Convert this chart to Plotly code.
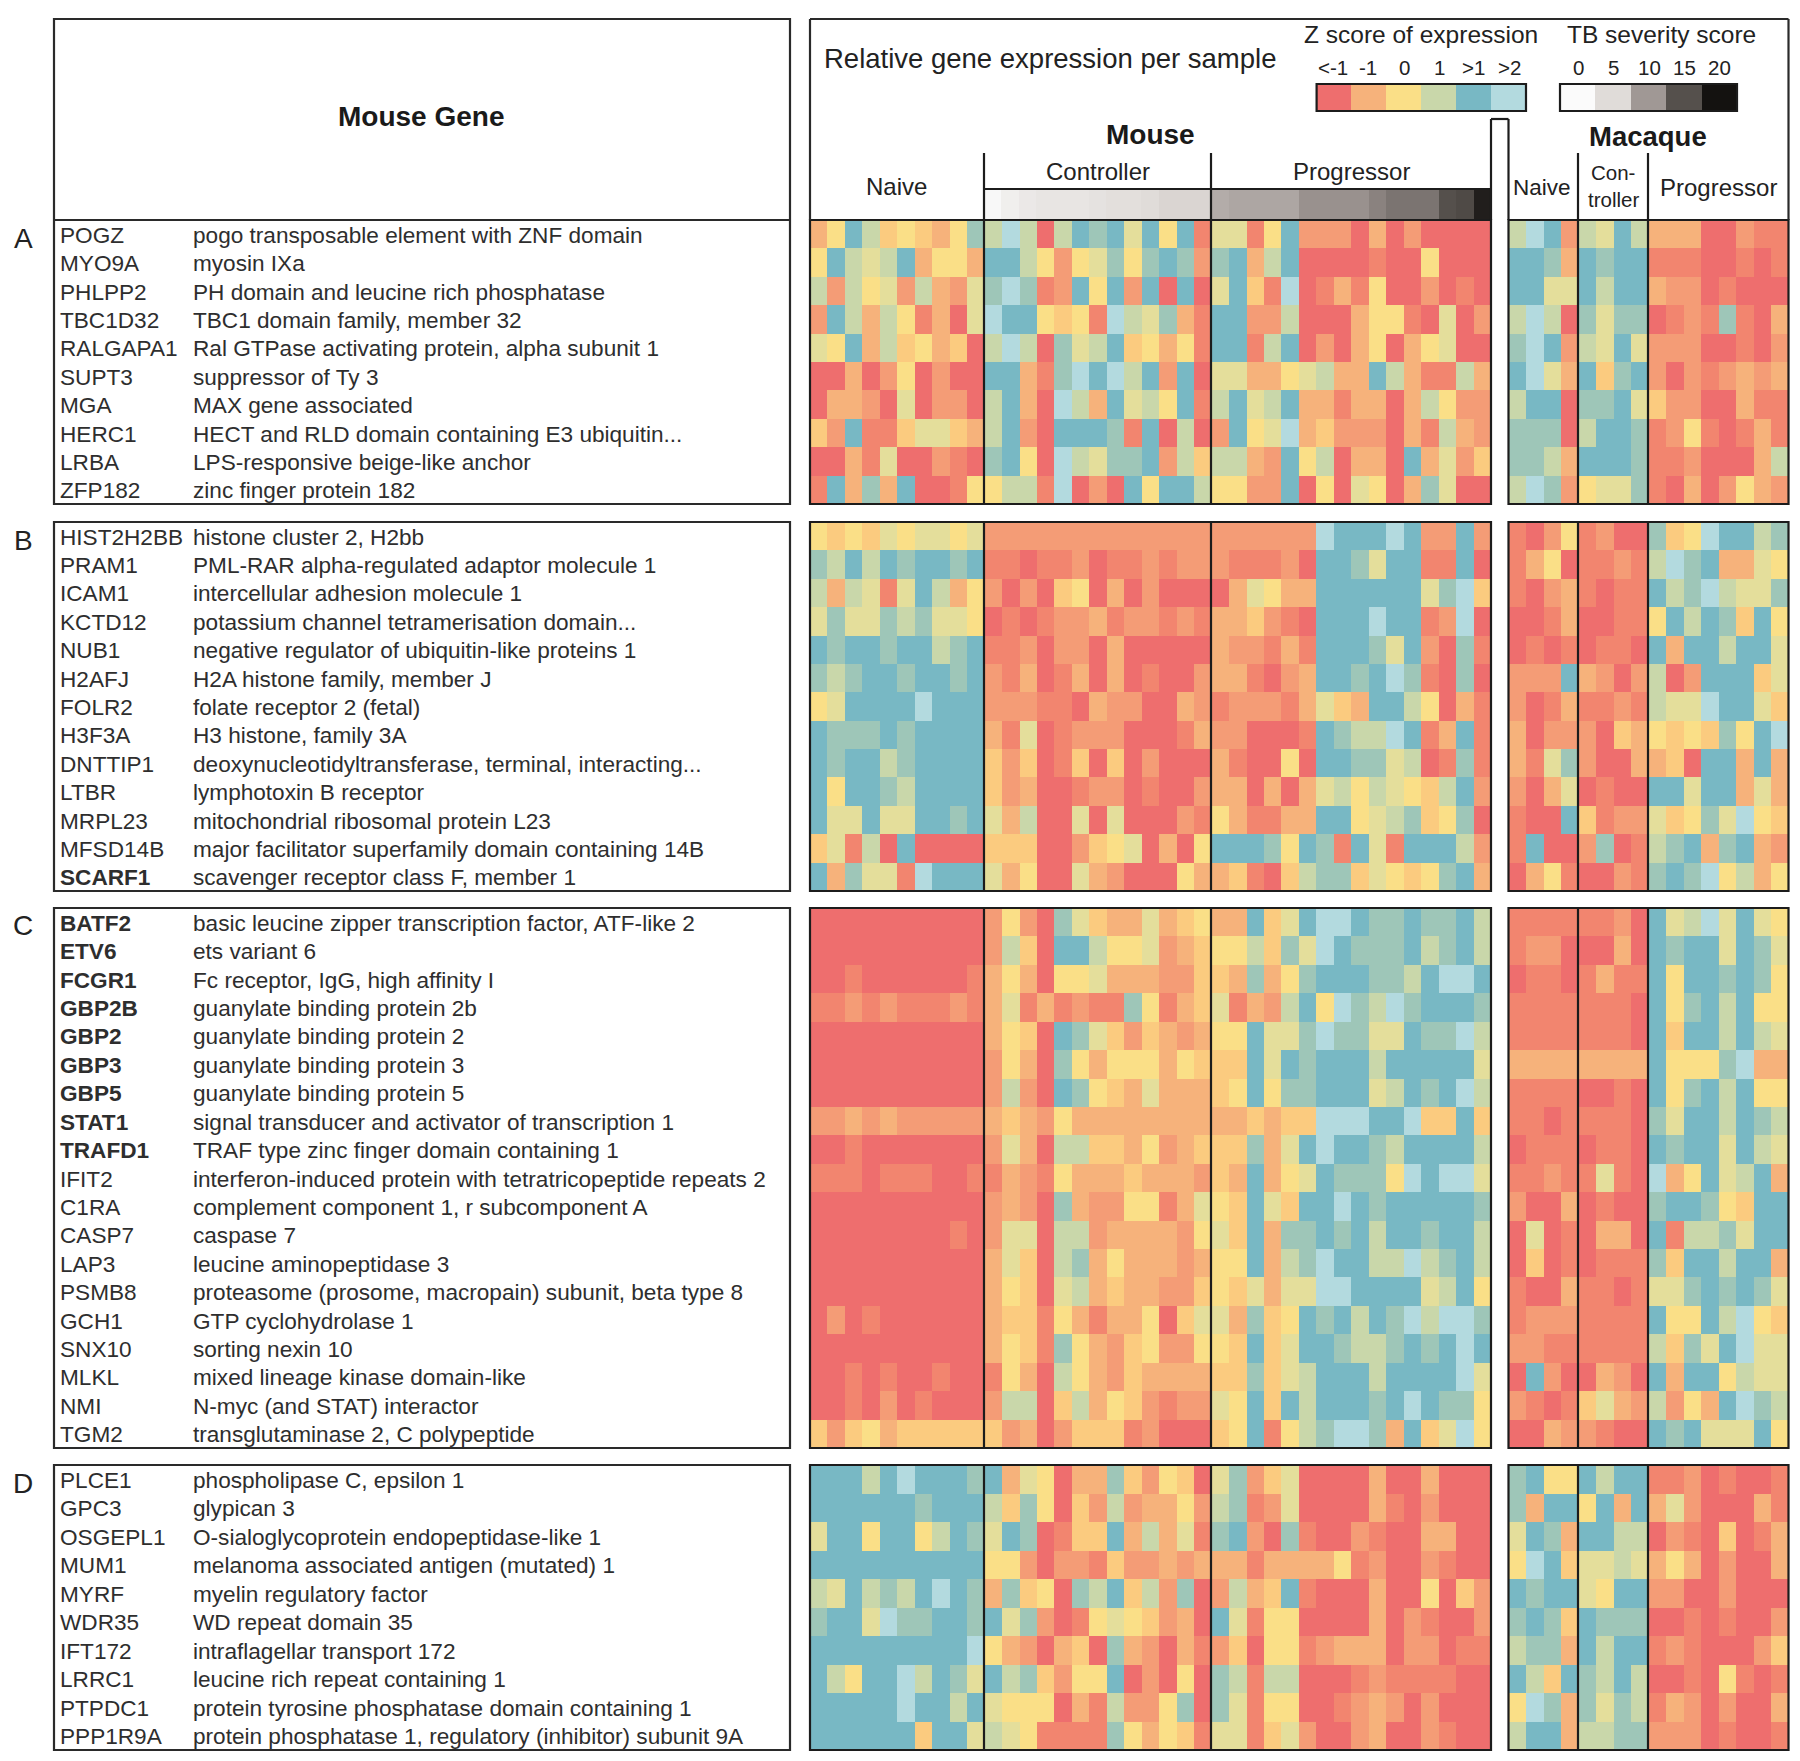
import plotly.graph_objects as go

W, H = 1800, 1761

# expression level codes: 0 (deep red, below -1) ... a=10 (pale blue, above 2); read per cell
LEVEL_COLOURS = ["#EE6E6E", "#F2856F", "#F49C76", "#F6B27B", "#FBCB7F", "#FADF87",
                 "#E4DE9B", "#C9D7AA", "#9EC6B8", "#78B8C4", "#B3DADF"]
GREYS = [[0, "#FBFBFB"], [0.25, "#E0DCD9"], [0.5, "#A09895"], [0.75, "#55504C"], [1, "#141210"]]

GENES_A = ["POGZ", "MYO9A", "PHLPP2", "TBC1D32", "RALGAPA1", "SUPT3", "MGA", "HERC1", "LRBA", "ZFP182"]
DESC_A = ["pogo transposable element with ZNF domain", "myosin IXa", "PH domain and leucine rich phosphatase",
          "TBC1 domain family, member 32", "Ral GTPase activating protein, alpha subunit 1", "suppressor of Ty 3",
          "MAX gene associated", "HECT and RLD domain containing E3 ubiquitin...", "LPS-responsive beige-like anchor",
          "zinc finger protein 182"]
GENES_B = ["HIST2H2BB", "PRAM1", "ICAM1", "KCTD12", "NUB1", "H2AFJ", "FOLR2", "H3F3A", "DNTTIP1", "LTBR", "MRPL23",
           "MFSD14B", "SCARF1"]
DESC_B = ["histone cluster 2, H2bb", "PML-RAR alpha-regulated adaptor molecule 1", "intercellular adhesion molecule 1",
          "potassium channel tetramerisation domain...", "negative regulator of ubiquitin-like proteins 1",
          "H2A histone family, member J", "folate receptor 2 (fetal)", "H3 histone, family 3A",
          "deoxynucleotidyltransferase, terminal, interacting...", "lymphotoxin B receptor",
          "mitochondrial ribosomal protein L23", "major facilitator superfamily domain containing 14B",
          "scavenger receptor class F, member 1"]
GENES_C = ["BATF2", "ETV6", "FCGR1", "GBP2B", "GBP2", "GBP3", "GBP5", "STAT1", "TRAFD1", "IFIT2", "C1RA", "CASP7",
           "LAP3", "PSMB8", "GCH1", "SNX10", "MLKL", "NMI", "TGM2"]
DESC_C = ["basic leucine zipper transcription factor, ATF-like 2", "ets variant 6", "Fc receptor, IgG, high affinity I",
          "guanylate binding protein 2b", "guanylate binding protein 2", "guanylate binding protein 3",
          "guanylate binding protein 5", "signal transducer and activator of transcription 1",
          "TRAF type zinc finger domain containing 1", "interferon-induced protein with tetratricopeptide repeats 2",
          "complement component 1, r subcomponent A", "caspase 7", "leucine aminopeptidase 3",
          "proteasome (prosome, macropain) subunit, beta type 8", "GTP cyclohydrolase 1", "sorting nexin 10",
          "mixed lineage kinase domain-like", "N-myc (and STAT) interactor", "transglutaminase 2, C polypeptide"]
GENES_D = ["PLCE1", "GPC3", "OSGEPL1", "MUM1", "MYRF", "WDR35", "IFT172", "LRRC1", "PTPDC1", "PPP1R9A"]
DESC_D = ["phospholipase C, epsilon 1", "glypican 3", "O-sialoglycoprotein endopeptidase-like 1",
          "melanoma associated antigen (mutated) 1", "myelin regulatory factor", "WD repeat domain 35",
          "intraflagellar transport 172", "leucine rich repeat containing 1",
          "protein tyrosine phosphatase domain containing 1", "protein phosphatase 1, regulatory (inhibitor) subunit 9A"]
BOLD_GENES = ["SCARF1", "BATF2", "ETV6", "FCGR1", "GBP2B", "GBP2", "GBP3", "GBP5", "STAT1", "TRAFD1"]

# each row: naive controller progressor
MOUSE_A = [
    "3597454358 7a70798969591 6615922203020000",
    "5976793553 9975256858982 8937900001005000",
    "7275627326 8a81295929090 6941a01315002010",
    "2973751306 a995451a76831 9922700035510602",
    "6593745340 7a70867945351 9917902035035600",
    "0030250200 99318a9a79290 6633567339731173",
    "0332060220 7930a73967591 7967933133037522",
    "4291146643 7920999819070 2956a34222031732",
    "0031600210 8950a76889274 7732957033093624",
    "1938390015 5771a02095997 5522905065038600",
]
# each row: naive controller progressor
MACAQUE_A = [
    "7a92 7697 33300211", "9983 9899 11100101", "9966 9799 32201000", "7a70 8688 01218103", "8a92 7696 22200102",
    "9a63 9489 20212323", "7990 8896 42200311", "8880 7998 12510131", "8873 9998 11200037", "7a82 5668 10302532",
]
MOUSE_B = [
    "5454656656 2222222222222 222222a999a92292",
    "8797989989 1101120112122 2111209986991190",
    "7376169735 2020450302000 03653399999968a4",
    "6866878665 0101223122121 334210999a9912a0",
    "9899899789 1120220300000 3221319998692081",
    "8789989989 2130130301002 3310239989a81080",
    "569999a999 2221103220032 1222136439975031",
    "9888989999 3160122200013 2200019877a91391",
    "9899789999 4240140402000 3100509988670181",
    "9599879999 4230012201002 3303036757654792",
    "9669669989 6370060600021 5311339956784580",
    "4617090000 4440024560305 9998598196199972",
    "938661a999 6350063200053 3410478846545893",
]
MACAQUE_B = [
    "1025 1200 845a9978", "1350 1121 7a893365", "1023 1011 978a7668", "0013 0011 59798495", "0101 0110 93997996",
    "2229 3202 70299946", "2013 1121 766a9964", "3022 2043 5454859a", "3168 2003 34099393", "2036 0100 99699363",
    "1009 4122 64586a54", "1900 2801 78938932", "0351 0021 898a5735",
]
MOUSE_C = [
    "0000000000 2520864336345 339469aa98898897",
    "0000000000 2740997556234 557486a988897897",
    "0010000001 3530556333224 4383589998879aa9",
    "1121211121 3613121185134 6132795a87a89998",
    "0000000000 3540986424323 559668a8866988a7",
    "0000000000 2530853555354 4496989997999996",
    "0000000000 2720985436333 45958899967989a7",
    "2232322222 3432533333333 334344aaa99a4494",
    "0010000000 2630774435234 448369a998799997",
    "1110111001 1321533343332 43935698885a9aa6",
    "0000000000 2320832255136 5496499a98999998",
    "0000000010 2660772333325 6493889897998997",
    "0000000000 3640783533323 559378a9977a7897",
    "0000000000 3540673433224 546366aa99996795",
    "0201000000 3441531335046 63845989798a7aa8",
    "0000000000 3541853245225 54946998778989a9",
    "0010100100 1530753243333 44846799979999a6",
    "0010201000 2770473542122 65949799989a9885",
    "4245344444 4230244412000 4591578aa83946a5",
]
MACAQUE_C = [
    "1111 1120 967a6965", "1220 0030 98996986", "0110 1311 95998985", "1111 1110 95897955", "1111 1110 94997976",
    "3333 3333 95558a33", "1111 0010 95897955", "1101 1110 86997987", "0111 0110 98996976", "1121 1610 a3596793",
    "2003 0100 89985499", "0601 0330 91778699", "0401 0111 84997993", "1003 1101 66898986", "1222 1111 95597a54",
    "2211 1111 74869a66", "0920 0320 93995766", "2101 4632 72539a87", "0032 2100 98966695",
]
MOUSE_D = [
    "99979a9998 9365033842540 6824600003003000",
    "9999998999 7485042723352 7812600003102000",
    "6995995798 6980144937361 8920810021003300",
    "9999999999 5520221422323 3313333512002100",
    "7697879a98 3845087947280 2734910003005042",
    "8996a88998 9682015654230 9615500003021002",
    "999999999a 5320340832031 2405512333022011",
    "97599a7986 9784255902050 8717700012111100",
    "99999a9979 6555031722580 8615500123202000",
    "9999994996 7651111853541 6614620023002100",
]
MACAQUE_D = [
    "8955 9799 11201001", "8399 5939 36200031", "6983 9977 02104013", "5a94 6676 35302003", "9899 6599 22002000",
    "8984 9888 00101002", "7883 9799 12100024", "9749 8797 00105101", "5a83 8687 13202003", "7993 7788 22201001",
]

SEVERITY_CONTROLLER = [0.5, 2, 3, 3.5, 3.5, 3.5, 4, 4.5, 4.5, 5, 5.5, 5.5, 5.5]
SEVERITY_PROGRESSOR = [8.5, 9, 9, 9, 9, 10.5, 10.5, 10.5, 10.5, 11.5, 12.5, 12.5, 12.5, 15, 15.5, 19]
Z_LEGEND_CODES = [0, 3, 5, 7, 9, 10]
Z_LEGEND_LABELS = ["<-1", "-1", "0", "1", ">1", ">2"]
TB_LEGEND_VALUES = [0, 5, 10, 15, 20]
N_MOUSE, N_MACAQUE = 39, 16


def parse(rows, n):
    out = []
    for r in rows:
        v = [int(c, 11) for c in r.replace(" ", "")]
        if len(v) != n:
            raise ValueError(f"row length {len(v)} != {n}: {r}")
        out.append(v)
    return out


def px(x):
    return x / W


def py(y):
    return 1 - y / H


# layout in pixels of the photographed page
MX0, MX1, QX0, QX1 = 810, 1491, 1508.5, 1788.5
NAIVE_END, CTRL_END, Q_NAIVE_END, Q_CTRL_END = 984, 1211, 1578, 1648
LX0, LX1 = 54, 790
PANELS = [("A", GENES_A, DESC_A, MOUSE_A, MACAQUE_A, 220, 504),
          ("B", GENES_B, DESC_B, MOUSE_B, MACAQUE_B, 522, 891),
          ("C", GENES_C, DESC_C, MOUSE_C, MACAQUE_C, 908, 1448),
          ("D", GENES_D, DESC_D, MOUSE_D, MACAQUE_D, 1465, 1750)]

fig = go.Figure()
layout = dict(
    width=W, height=H, margin=dict(l=0, r=0, t=0, b=0), paper_bgcolor="white", plot_bgcolor="white",
    showlegend=False, font=dict(family="Liberation Sans, Arial, sans-serif", color="#222222"),
    coloraxis=dict(colorscale=[[i / 10, c] for i, c in enumerate(LEVEL_COLOURS)], cmin=0, cmax=10, showscale=False),
    coloraxis2=dict(colorscale=GREYS, cmin=0, cmax=20, showscale=False),
)
hidden = dict(visible=False, fixedrange=True)
layout["xaxis"] = dict(hidden, domain=[px(MX0), px(MX1)], range=[-0.5, N_MOUSE - 0.5])
layout["xaxis2"] = dict(hidden, domain=[px(QX0), px(QX1)], range=[-0.5, N_MACAQUE - 0.5], anchor="y")

shapes, notes = [], []


def line(x0, y0, x1, y1, w=2.2, c="#1c1c1c"):
    shapes.append(dict(type="line", xref="paper", yref="paper", x0=px(x0), y0=py(y0), x1=px(x1), y1=py(y1),
                       line=dict(color=c, width=w)))


def box(x0, y0, x1, y1, w=2.2, c="#2a2a2a"):
    shapes.append(dict(type="rect", xref="paper", yref="paper", x0=px(x0), y0=py(y0), x1=px(x1), y1=py(y1),
                       line=dict(color=c, width=w), fillcolor="rgba(0,0,0,0)"))


def text(x, y, s, size, anchor="center", color="#222222"):
    notes.append(dict(xref="paper", yref="paper", x=px(x), y=py(y), text=s, showarrow=False, xanchor=anchor,
                      yanchor="middle", font=dict(size=size, color=color), borderpad=0, borderwidth=0))


for i, (letter, genes, descs, mouse, macaque, y0, y1) in enumerate(PANELS):
    name = "yaxis" if i == 0 else f"yaxis{i + 1}"
    ref = "y" if i == 0 else f"y{i + 1}"
    layout[name] = dict(hidden, domain=[py(y1), py(y0)], type="category", categoryorder="array",
                        categoryarray=genes, range=[len(genes) - 0.5, -0.5], anchor="x")
    fig.add_trace(go.Heatmap(z=parse(mouse, N_MOUSE), y=genes, xaxis="x", yaxis=ref, coloraxis="coloraxis",
                             name="Mouse"))
    fig.add_trace(go.Heatmap(z=parse(macaque, N_MACAQUE), y=genes, xaxis="x2", yaxis=ref, coloraxis="coloraxis",
                             name="Macaque"))
    top = 19 if letter == "A" else y0
    box(LX0, top, LX1, y1)
    box(MX0, y0, MX1, y1, c="#1c1c1c")
    box(QX0, y0, QX1, y1, c="#1c1c1c")
    for sep in (NAIVE_END, CTRL_END, Q_NAIVE_END, Q_CTRL_END):
        line(sep, y0, sep, y1)
    text(23, y0 + 18, letter, 28)
    for gene, desc in zip(genes, descs):
        label = f"<b>{gene}</b>" if gene in BOLD_GENES else gene
        for x, s in ((58, label), (191, desc)):
            notes.append(dict(xref="paper", yref=ref, x=px(x), y=gene, text=s, showarrow=False, xanchor="left",
                              yanchor="middle", yshift=-1, font=dict(size=22.6, color="#2e2e2e")))

# severity strip under the mouse groups
layout["xaxis3"] = dict(hidden, domain=[px(NAIVE_END), px(MX1)], range=[-0.5, 28.5], anchor="y5")
layout["yaxis5"] = dict(hidden, domain=[py(219), py(189)], anchor="x3")
fig.add_trace(go.Heatmap(z=[SEVERITY_CONTROLLER + SEVERITY_PROGRESSOR], xaxis="x3", yaxis="y5", coloraxis="coloraxis2",
                         name="TB severity"))
# colour legends
layout["xaxis4"] = dict(hidden, domain=[px(1316.6), px(1526)], range=[-0.5, 5.5], anchor="y6")
layout["yaxis6"] = dict(hidden, domain=[py(111), py(84)], anchor="x4")
fig.add_trace(go.Heatmap(z=[Z_LEGEND_CODES], xaxis="x4", yaxis="y6", coloraxis="coloraxis", name="Z score"))
layout["xaxis5"] = dict(hidden, domain=[px(1560), px(1737)], range=[-0.5, 4.5], anchor="y7")
layout["yaxis7"] = dict(hidden, domain=[py(111), py(84)], anchor="x5")
fig.add_trace(go.Heatmap(z=[TB_LEGEND_VALUES], xaxis="x5", yaxis="y7", coloraxis="coloraxis2", name="TB legend"))
box(1316.6, 84, 1526, 111, c="#1c1c1c")
box(1560, 84, 1737, 111, c="#1c1c1c")

# header frames
line(LX0, 220, LX1, 220, c="#2a2a2a")
line(MX0, 19, QX1, 19, c="#2a2a2a")
line(MX0, 19, MX0, 220, c="#2a2a2a")
line(QX1, 19, QX1, 220, c="#2a2a2a")
line(MX1, 119, MX1, 220)
line(QX0, 119, QX0, 220)
line(MX1, 119, QX0, 119)
line(NAIVE_END, 153, NAIVE_END, 220)
line(CTRL_END, 153, CTRL_END, 220)
line(Q_NAIVE_END, 153, Q_NAIVE_END, 220)
line(Q_CTRL_END, 153, Q_CTRL_END, 220)
line(NAIVE_END, 189, MX1, 189)

# header text
text(420.5, 117, "<b>Mouse Gene</b>", 28, color="#1a1a1a")
text(824, 58, "Relative gene expression per sample", 27.5, anchor="left")
text(1421, 34, "Z score of expression", 24.5)
text(1661, 34, "TB severity score", 24.5)
for cx, lab in zip([1332.5, 1367.6, 1404, 1439, 1473.5, 1509], Z_LEGEND_LABELS):
    text(cx, 67, lab.replace("<", "&lt;"), 20.5)
for cx, lab in zip([1578, 1613, 1649.5, 1684.6, 1719], TB_LEGEND_VALUES):
    text(cx, 67, str(lab), 20.5)
text(1150, 135, "<b>Mouse</b>", 28, color="#1a1a1a")
text(1648, 137, "<b>Macaque</b>", 27.5, color="#1a1a1a")
text(896, 187, "Naive", 24)
text(1098, 172, "Controller", 24)
text(1351, 172, "Progressor", 24)
text(1542, 188, "Naive", 22.5)
text(1613, 173, "Con-", 20.5)
text(1613, 200, "troller", 20.5)
text(1718, 188, "Progressor", 24)

layout["shapes"] = shapes
layout["annotations"] = notes
fig.update_layout(**layout)
fig.write_html("out.html", post_script="document.body.style.margin='0';", config={"displayModeBar": False})
